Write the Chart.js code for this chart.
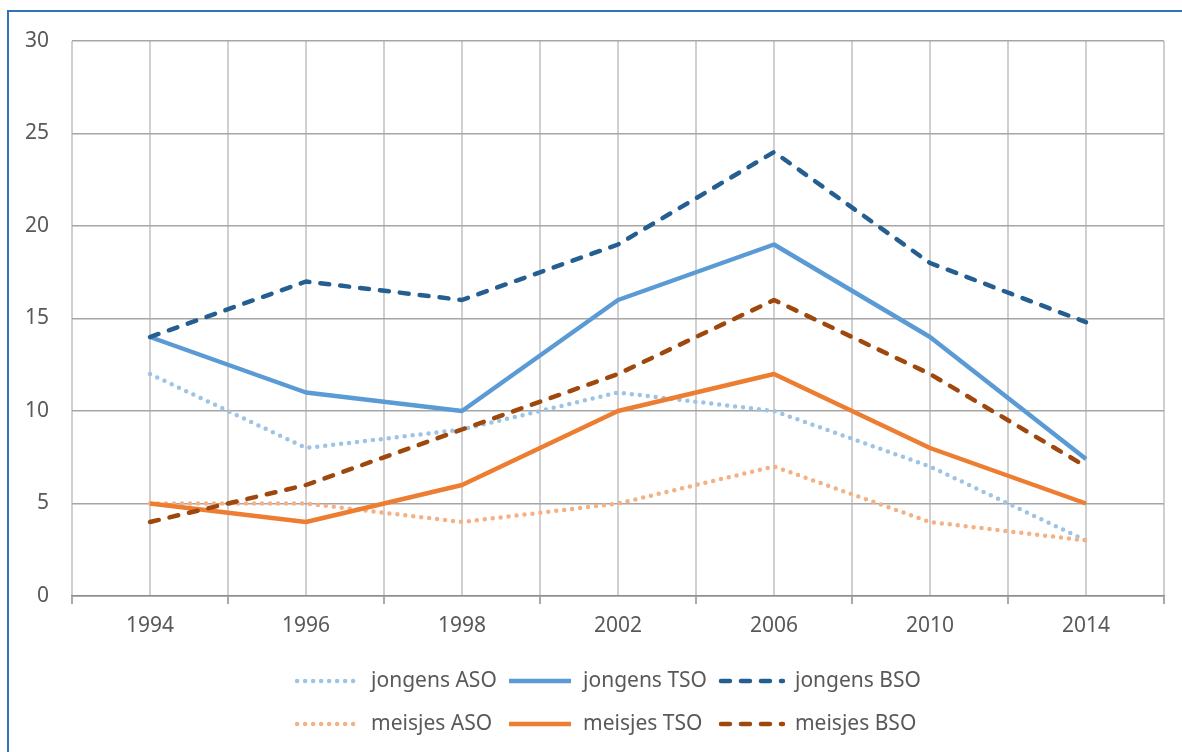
<!DOCTYPE html>
<html>
<head>
<meta charset="utf-8">
<script src="https://cdn.jsdelivr.net/npm/chart.js@4.4.0/dist/chart.umd.min.js"></script>
<style>
  html, body { margin: 0; padding: 0; background: #fff; }
</style>
</head>
<body>
<canvas id="chart" width="1182" height="752"></canvas>
<script>
var years = ['1994', '1996', '1998', '2002', '2006', '2010', '2014'];
var jongensASO = [12, 8, 9, 11, 10, 7, 3];
var jongensTSO = [14, 11, 10, 16, 19, 14, 7.4];
var jongensBSO = [14, 17, 16, 19, 24, 18, 14.8];
var meisjesASO = [5, 5, 4, 5, 7, 4, 3];
var meisjesTSO = [5, 4, 6, 10, 12, 8, 5];
var meisjesBSO = [4, 6, 9, 12, 16, 12, 7];
var yTicks = [0, 5, 10, 15, 20, 25, 30];

var FONT = '"Noto Sans", sans-serif';
var TEXT = '#595959';
Chart.defaults.font.family = FONT;
Chart.defaults.color = TEXT;

var dotted = [0, 8];
var dashed = [9, 11];

function series(label, data, color, dash) {
  return {
    label: label,
    data: data,
    borderColor: color,
    backgroundColor: color,
    borderWidth: 4.5,
    borderDash: dash,
    borderCapStyle: dash.length ? 'round' : 'butt',
    borderJoinStyle: 'round',
    pointRadius: 0,
    fill: false,
    tension: 0
  };
}

var datasets = [
  series('jongens ASO', jongensASO, '#9DC3E6', dotted),
  series('jongens TSO', jongensTSO, '#5B9BD5', []),
  series('jongens BSO', jongensBSO, '#255E91', dashed),
  series('meisjes ASO', meisjesASO, '#F4B183', dotted),
  series('meisjes TSO', meisjesTSO, '#ED7D31', []),
  series('meisjes BSO', meisjesBSO, '#9E480E', dashed)
];
// later series on top, like the original
datasets.forEach(function (d, i) { d.order = datasets.length - i; });

// blue frame round the chart
var frame = {
  id: 'frame',
  beforeDraw(chart) {
    var ctx = chart.ctx;
    ctx.save();
    ctx.strokeStyle = '#2E75B6';
    ctx.lineWidth = 2;
    ctx.strokeRect(8, 11, chart.width, chart.height);
    ctx.restore();
  }
};

// legend in two rows of three
var rowLegend = {
  id: 'rowLegend',
  afterDraw(chart) {
    var ctx = chart.ctx;
    var sets = chart.data.datasets;
    var lineLen = 64, gapText = 12, gapCol = 10, cols = 3;
    ctx.save();
    ctx.font = '21px ' + FONT;
    var maxText = 0;
    sets.forEach(function (d) {
      maxText = Math.max(maxText, ctx.measureText(d.label).width);
    });
    var colW = lineLen + gapText + maxText + gapCol;
    var mid = (chart.chartArea.left + chart.chartArea.right) / 2 - 10;
    var startX = mid - (cols * colW - gapCol) / 2;
    sets.forEach(function (d, i) {
      var x = startX + (i % cols) * colW;
      var y = chart.chartArea.bottom + 85 + Math.floor(i / cols) * 43;
      ctx.beginPath();
      ctx.setLineDash(d.borderDash);
      ctx.lineCap = d.borderCapStyle;
      ctx.lineWidth = d.borderWidth;
      ctx.strokeStyle = d.borderColor;
      ctx.moveTo(x + 2, y);
      ctx.lineTo(x + lineLen, y);
      ctx.stroke();
      ctx.setLineDash([]);
      ctx.fillStyle = TEXT;
      ctx.textAlign = 'left';
      ctx.textBaseline = 'middle';
      ctx.fillText(d.label, x + lineLen + gapText, y);
    });
    ctx.restore();
  }
};

new Chart(document.getElementById('chart'), {
  type: 'line',
  data: { labels: years, datasets: datasets },
  options: {
    responsive: false,
    animation: false,
    layout: { padding: { top: 41, right: 18, bottom: 96, left: 0 } },
    plugins: {
      legend: { display: false },
      tooltip: { enabled: false }
    },
    scales: {
      x: {
        type: 'category',
        offset: true,
        grid: { offset: true, color: '#d0d0d0', lineWidth: 2, tickLength: 8, tickColor: '#8c8c8c', tickWidth: 1.5 },
        border: { color: '#8c8c8c', width: 1.5 },
        ticks: { color: TEXT, font: { size: 21 }, padding: 9, maxRotation: 0 },
        afterFit: function (s) { s.height = 60; }
      },
      x2: {
        type: 'category',
        labels: years,
        offset: true,
        position: 'bottom',
        grid: { offset: false, color: '#d0d0d0', lineWidth: 2, drawTicks: false },
        ticks: { display: false },
        border: { display: false },
        afterFit: function (s) { s.height = 0; }
      },
      y: {
        min: yTicks[0],
        max: yTicks[yTicks.length - 1],
        afterBuildTicks: function (s) { s.ticks = yTicks.map(function (v) { return { value: v }; }); },
        grid: { color: '#a6a6a6', lineWidth: 1.5, drawTicks: false },
        border: { display: false },
        ticks: { color: TEXT, font: { size: 21 }, padding: 23 },
        afterFit: function (s) { s.width = 72; }
      }
    }
  },
  plugins: [frame, rowLegend]
});
</script>
</body>
</html>
